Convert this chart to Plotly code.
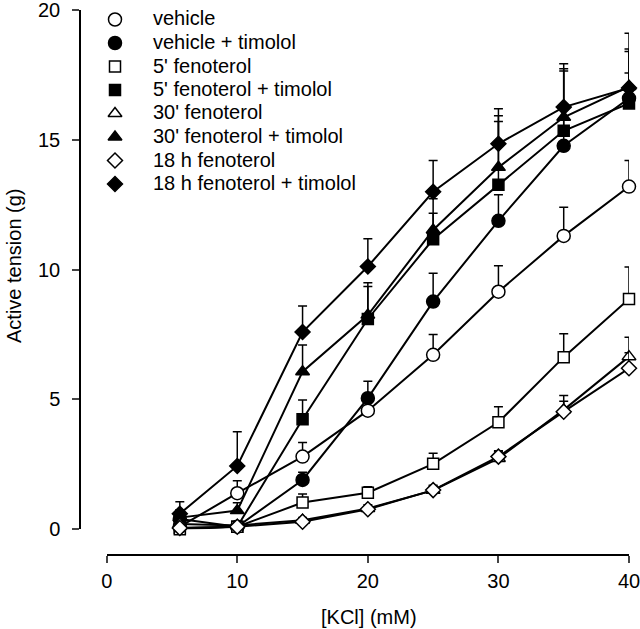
import plotly.graph_objects as go

# ---- data ----
kcl = [5.6, 10, 15, 20, 25, 30, 35, 40]

labels = ["vehicle", "vehicle + timolol", "5' fenoterol", "5' fenoterol + timolol",
          "30' fenoterol", "30' fenoterol + timolol", "18 h fenoterol", "18 h fenoterol + timolol"]

vehicle = [0.1, 1.39, 2.8, 4.57, 6.72, 9.15, 11.3, 13.2]
vehicle_err = [0.15, 0.48, 0.54, 0.45, 0.78, 1.0, 1.1, 1.0]

vehicle_tim = [0.4, 0.1, 1.9, 5.05, 8.77, 11.88, 14.77, 16.6]
vehicle_tim_err = [0.2, 0.1, 0.3, 0.65, 1.09, 1.0, 1.0, 0.97]

fen5 = [0.0, 0.1, 1.03, 1.41, 2.52, 4.12, 6.63, 8.87]
fen5_err = [0.05, 0.1, 0.33, 0.23, 0.41, 0.6, 0.9, 1.23]

fen5_tim = [0.05, 0.1, 4.24, 8.1, 11.17, 13.27, 15.35, 16.4]
fen5_tim_err = [0.2, 0.1, 0.74, 1.25, 1.0, 2.44, 2.3, 2.0]

fen30 = [0.2, 0.15, 0.35, 0.8, 1.5, 2.73, 4.6, 6.65]
fen30_err = [0.1, 0.1, 0.1, 0.15, 0.2, 0.3, 0.55, 0.75]

fen30_tim = [0.45, 0.72, 6.07, 8.25, 11.53, 13.94, 15.87, 17.05]
fen30_tim_err = [0.3, 0.3, 1.03, 1.25, 1.2, 1.99, 1.87, 1.45]

fen18h = [0.05, 0.1, 0.29, 0.77, 1.51, 2.8, 4.53, 6.2]
fen18h_err = [0.1, 0.1, 0.1, 0.1, 0.15, 0.2, 0.4, 0.6]

fen18h_tim = [0.6, 2.44, 7.6, 10.12, 13.0, 14.85, 16.26, 17.0]
fen18h_tim_err = [0.46, 1.32, 1.0, 1.07, 1.2, 1.35, 1.67, 2.1]

x_ticks = [0, 10, 20, 30, 40]
y_ticks = [0, 5, 10, 15, 20]

# ---- styles ----
FONT = "Liberation Sans, Arial, Helvetica, sans-serif"
series = {
    "vehicle": (vehicle, vehicle_err, "circle", "white", 13),
    "vehicle + timolol": (vehicle_tim, vehicle_tim_err, "circle", "black", 13),
    "5' fenoterol": (fen5, fen5_err, "square", "white", 11),
    "5' fenoterol + timolol": (fen5_tim, fen5_tim_err, "square", "black", 11),
    "30' fenoterol": (fen30, fen30_err, "triangle-up", "white", 12),
    "30' fenoterol + timolol": (fen30_tim, fen30_tim_err, "triangle-up", "black", 12),
    "18 h fenoterol": (fen18h, fen18h_err, "diamond", "white", 11.5),
    "18 h fenoterol + timolol": (fen18h_tim, fen18h_tim_err, "diamond", "black", 11.5),
}
draw_order = ["18 h fenoterol + timolol", "30' fenoterol + timolol", "5' fenoterol + timolol",
              "vehicle + timolol", "5' fenoterol", "vehicle", "30' fenoterol", "18 h fenoterol"]

fig = go.Figure()
for name in draw_order:
    y, err, sym, fill, size = series[name]
    fig.add_trace(go.Scatter(
        x=kcl, y=y, mode="lines+markers", name=name, showlegend=False,
        line=dict(color="black", width=2),
        marker=dict(symbol=sym, size=size, color=fill, line=dict(color="black", width=1.5)),
        error_y=dict(type="data", array=err, arrayminus=[0] * len(err), symmetric=False,
                     color="black", thickness=1.5, width=4.5),
        cliponaxis=False,
    ))

# ---- layout geometry (pixels) ----
W, H = 640, 629
ML, MR, MT, MB = 80, 11, 10, 74
PW, PH = W - ML - MR, H - MT - MB
X0_PX, X40_PX = 106.7, 629.0     # pixel positions of x = 0 and x = 40
Y0_PX, Y20_PX = 529.3, 10.0      # pixel positions of y = 0 and y = 20


def px_to_paper_x(px):
    return (px - ML) / PW


def px_to_paper_y(py):
    return (H - MB - py) / PH


def px_to_data_x(px):
    return (px - X0_PX) / (X40_PX - X0_PX) * 40


def px_to_data_y(py):
    return (Y0_PX - py) / (Y0_PX - Y20_PX) * 20


# ---- custom legend ----
LEG_MX, LEG_TX, LEG_Y0, LEG_DY = 115, 151, 19.5, 23.5
for i, name in enumerate(labels):
    _, _, sym, fill, size = series[name]
    yy = LEG_Y0 + i * LEG_DY
    fig.add_trace(go.Scatter(
        x=[px_to_data_x(LEG_MX)], y=[px_to_data_y(yy)], mode="markers", showlegend=False,
        marker=dict(symbol=sym, size=size, color=fill, line=dict(color="black", width=1.5)),
        hoverinfo="skip", cliponaxis=False,
    ))
    fig.add_annotation(x=px_to_paper_x(LEG_TX), y=px_to_paper_y(yy - 1), xref="paper", yref="paper",
                       text=name, showarrow=False, xanchor="left", yanchor="middle",
                       font=dict(size=20, color="black", family=FONT))

# axis titles
fig.add_annotation(x=px_to_paper_x(369), y=px_to_paper_y(617), xref="paper", yref="paper",
                   text="[KCl] (mM)", showarrow=False, xanchor="center", yanchor="middle",
                   font=dict(size=20, color="black", family=FONT))
fig.add_annotation(x=px_to_paper_x(14), y=px_to_paper_y(266), xref="paper", yref="paper",
                   text="Active tension (g)", showarrow=False, textangle=-90,
                   xanchor="center", yanchor="middle", font=dict(size=20, color="black", family=FONT))

fig.update_layout(
    width=W, height=H,
    margin=dict(l=ML, r=MR, t=MT, b=MB, autoexpand=False),
    paper_bgcolor="white", plot_bgcolor="white",
    font=dict(family=FONT, size=20, color="black"),
    showlegend=False,
    xaxis=dict(range=[0, 40], domain=[px_to_paper_x(X0_PX), 1], anchor="free", position=0,
               tickvals=x_ticks, ticks="outside", ticklen=7, tickwidth=1.5, showline=True,
               linewidth=1.5, linecolor="black", showgrid=False, zeroline=False, automargin=False,
               tickfont=dict(size=20), ticklabelstandoff=1, ticklabeloverflow="allow"),
    yaxis=dict(range=[0, 20], domain=[px_to_paper_y(Y0_PX), 1], anchor="free", position=0,
               tickvals=y_ticks, ticks="outside", ticklen=7, tickwidth=1.5, showline=True,
               linewidth=1.5, linecolor="black", showgrid=False, zeroline=False, automargin=False,
               tickfont=dict(size=20), ticklabelstandoff=8, ticklabeloverflow="allow"),
)

fig.write_html("out.html", config={"displayModeBar": False},
               post_script="document.body.style.margin='0';")
